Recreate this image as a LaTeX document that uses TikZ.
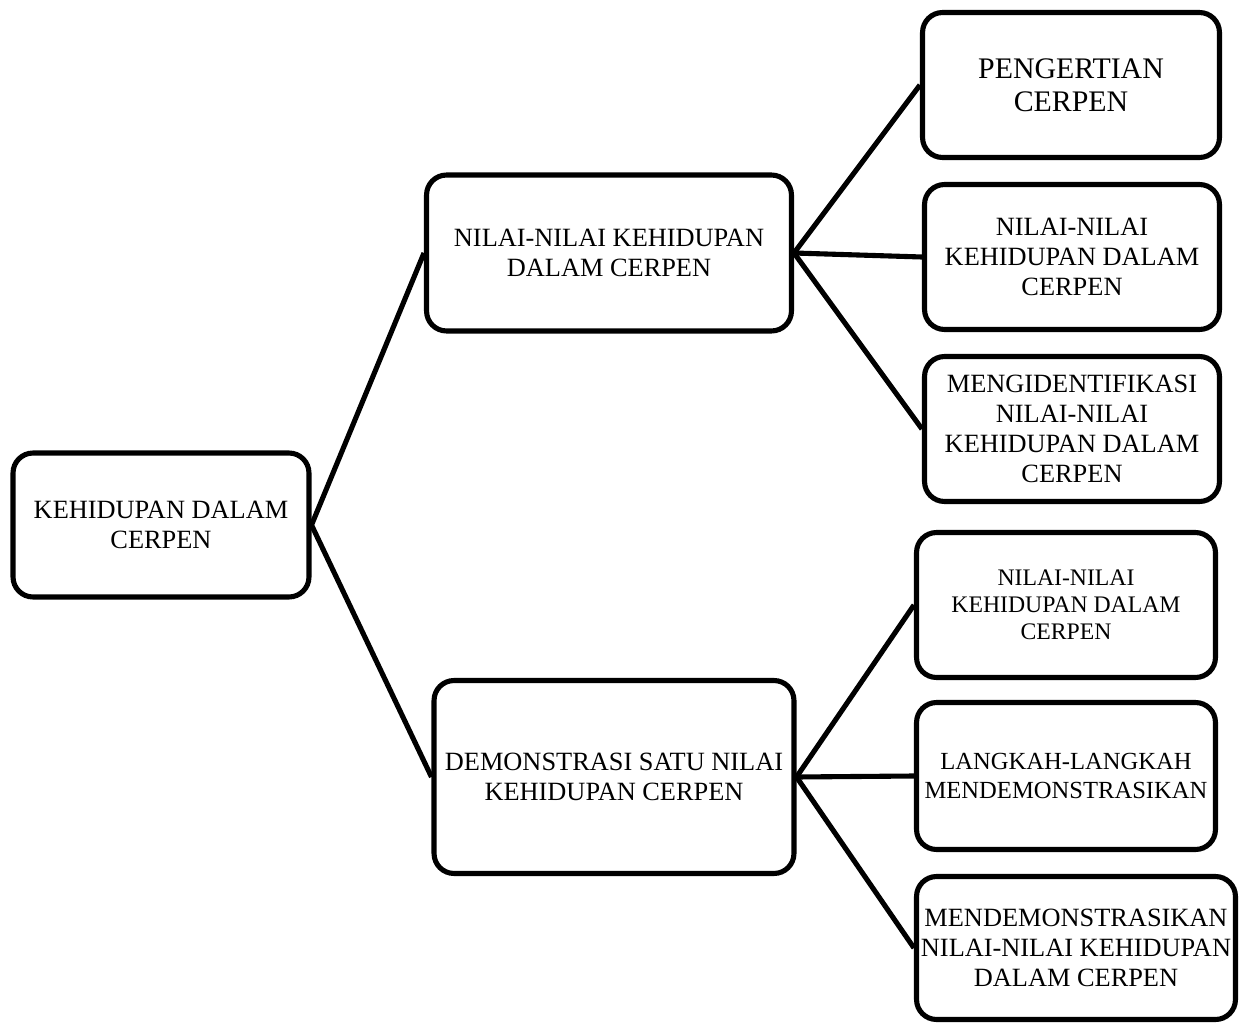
\documentclass[tikz,border=0pt]{standalone}
\usepackage{fontspec}
\setmainfont{Liberation Serif}
\begin{document}
\begin{tikzpicture}[x=0.02cm,y=-0.02cm,
    kotak/.style={draw,line width=2.9pt,rounded corners=0.4cm,align=center,
      inner sep=0pt,font=\fontsize{15}{17}\selectfont},
    garis/.style={line width=2.9pt}]
      \useasboundingbox (0,0) rectangle (1248,1024);%

      \node[kotak,minimum width=5.92cm,minimum height=2.88cm] (akar) at (161,525) {KEHIDUPAN DALAM\\CERPEN};%

      \node[kotak,minimum width=7.3cm,minimum height=3.12cm] (nilai) at (609,253) {NILAI-NILAI KEHIDUPAN\\DALAM CERPEN};%
      \node[kotak,minimum width=7.2cm,minimum height=3.86cm] (demo) at (614,777) {DEMONSTRASI SATU NILAI\\KEHIDUPAN CERPEN};%

      \node[kotak,minimum width=5.94cm,minimum height=2.9cm,font=\fontsize{17}{19}\selectfont] (A1) at (1071,85) {PENGERTIAN\\CERPEN};%
      \node[kotak,minimum width=5.9cm,minimum height=2.9cm] (A2) at (1072,257) {NILAI-NILAI\\KEHIDUPAN DALAM\\CERPEN};%
      \node[kotak,minimum width=5.9cm,minimum height=2.9cm] (A3) at (1072,429) {MENGIDENTIFIKASI\\NILAI-NILAI\\KEHIDUPAN DALAM\\CERPEN};%

      \node[kotak,minimum width=5.98cm,minimum height=2.9cm,font=\fontsize{13.5}{15.5}\selectfont] (B1) at (1066,605) {NILAI-NILAI\\KEHIDUPAN DALAM\\CERPEN};%
      \node[kotak,minimum width=5.98cm,minimum height=2.94cm,font=\fontsize{14}{17}\selectfont] (B2) at (1066,776) {LANGKAH-LANGKAH\\MENDEMONSTRASIKAN};%
      \node[kotak,minimum width=6.38cm,minimum height=2.86cm] (B3) at (1076,948) {MENDEMONSTRASIKAN\\NILAI-NILAI KEHIDUPAN\\DALAM CERPEN};%

      \draw[garis] (akar.east) -- (nilai.west);%
      \draw[garis] (akar.east) -- (demo.west);%

      \draw[garis] (nilai.east) -- (A1.west);%
      \draw[garis] (nilai.east) -- (A2.west);%
      \draw[garis] (nilai.east) -- (A3.west);%

      \draw[garis] (demo.east) -- (B1.west);%
      \draw[garis] (demo.east) -- (B2.west);%
      \draw[garis] (demo.east) -- (B3.west);%
\end{tikzpicture}
\end{document}
